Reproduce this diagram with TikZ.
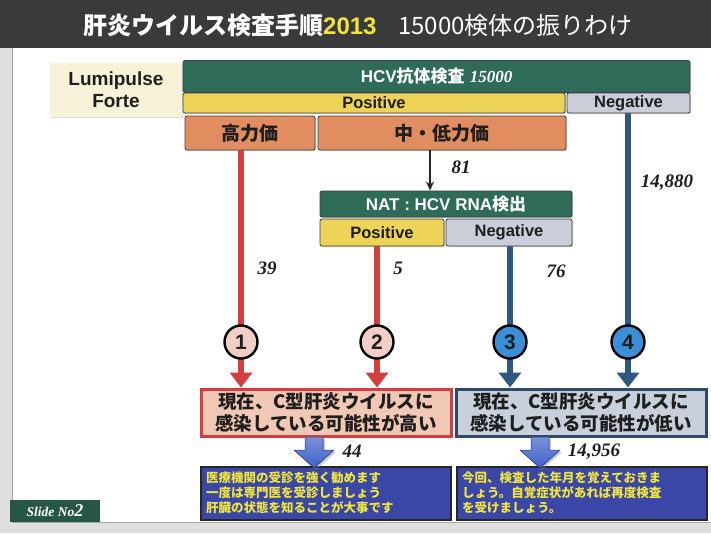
\documentclass[tikz,border=0pt]{standalone}
\usepackage{fontspec}
\setmainfont{Noto Sans CJK JP}
\newfontfamily\lat{Liberation Sans}
\newfontfamily\nums{Liberation Serif}
\usetikzlibrary{arrows.meta,shadows}
\pgfdeclarelayer{frame}
\pgfdeclarelayer{lines}
\pgfsetlayers{frame,lines,main}
\definecolor{barGray}{HTML}{3A3A3A}
\definecolor{ttlYel}{HTML}{F2E23A}
\definecolor{cream}{HTML}{F7F3D8}
\definecolor{dgreen}{HTML}{2E6B58}
\definecolor{pYel}{HTML}{EDD458}
\definecolor{nGray}{HTML}{C9CED8}
\definecolor{orng}{HTML}{E28D5F}
\definecolor{redL}{HTML}{D43E3E}
\definecolor{blueL}{HTML}{2E587E}
\definecolor{pinkC}{HTML}{F1CFC6}
\definecolor{blueC}{HTML}{3A8FD8}
\definecolor{pinkB}{HTML}{F1C7B6}
\definecolor{grayB}{HTML}{C8D0DB}
\definecolor{navyB}{HTML}{2F4868}
\definecolor{blueBox}{HTML}{3A47A6}
\definecolor{txtYel}{HTML}{F0E53C}
\definecolor{arrBlue}{HTML}{3E62C8}
\definecolor{txtDark}{HTML}{1E1E1E}
\tikzset{
  box/.style={rectangle, draw=black!75, line width=0.8pt, rounded corners=2pt, inner sep=0pt,
    drop shadow={shadow xshift=1.2pt, shadow yshift=-1.2pt, opacity=0.35}},
  greenbox/.style={box, fill=dgreen, text=white, font=\bfseries\fontsize{17}{19}\selectfont},
  posbox/.style={box, fill=pYel, text=txtDark, font=\lat\bfseries\fontsize{16.5}{18}\selectfont},
  negbox/.style={box, fill=nGray, text=txtDark, font=\lat\bfseries\fontsize{16.5}{18}\selectfont},
  titerbox/.style={box, fill=orng, text=txtDark, font=\bfseries\fontsize{19}{21}\selectfont, minimum height=34pt},
  cnt/.style={font=\nums\bfseries\itshape\fontsize{19}{21}\selectfont, text=txtDark},
  circ/.style={circle, draw=black, line width=2.4pt, minimum size=33pt, inner sep=0pt,
    font=\lat\bfseries\fontsize{21}{21}\selectfont, text=txtDark},
  redln/.style={draw=redL, line width=6pt, -{Triangle[width=22pt,length=15pt]}},
  blueln/.style={draw=blueL, line width=6pt, -{Triangle[width=22pt,length=15pt]}},
  resbox/.style={rectangle, line width=3pt, inner sep=0pt, minimum width=250pt, minimum height=47pt,
    align=center, font=\bfseries\fontsize{18.5}{22}\selectfont, text=txtDark},
  advbox/.style={rectangle, draw=black!85, line width=2pt, fill=blueBox, inner sep=0pt, minimum width=250pt,
    minimum height=53pt, text width=240pt, align=left, text=txtYel, font=\bfseries\fontsize{12.5}{15}\selectfont},
  barrow/.style={top color=arrBlue!70!white, bottom color=arrBlue, draw=arrBlue!60!black, line width=0.5pt,
    drop shadow={shadow xshift=2pt, shadow yshift=-2pt, opacity=0.4}}
}
\begin{document}
\begin{tikzpicture}[x=1pt,y=-1pt]
\useasboundingbox (0,0) rectangle (711,533);
% slide frame
\begin{pgfonlayer}{frame}
\fill[gray!25] (0,0) rectangle (711,533);
\fill[white] (12,48) rectangle (711,522);
\draw[gray!70, line width=1pt] (12,48) -- (12,522) -- (711,522);
\fill[barGray] (0,0) rectangle (711,48);
\end{pgfonlayer}
\node[text=white, font=\fontsize{24}{26}\selectfont] (title) at (358,25)
  {\textbf{肝炎ウイルス検査手順}\textcolor{ttlYel}{\textbf{\lat 2013}}\hspace{0.9em}15000検体の振りわけ};

% top level
\node[fill=cream, minimum width=132pt, minimum height=54pt, align=center, inner sep=0pt,
  drop shadow={shadow xshift=1.2pt, shadow yshift=-1.2pt, opacity=0.25},
  font=\lat\bfseries\fontsize{19}{22}\selectfont, text=txtDark] (lumi) at (116,90) {Lumipulse\\Forte};
\node[greenbox, minimum width=507pt, minimum height=32pt] (hcv) at (436.5,76.5)
  {{\lat HCV}抗体検査\hspace{0.3em}{\nums\itshape 15000}};
\node[posbox, minimum width=382pt, minimum height=20pt] (posA) at (374,103) {Positive};
\node[negbox, minimum width=123pt, minimum height=20pt] (negA) at (628.5,103) {Negative};
\node[titerbox, minimum width=130pt] (hi) at (250,133) {高力価};
\node[titerbox, minimum width=248pt] (mid) at (442,133) {中・低力価};

% NAT
\node[greenbox, minimum width=252pt, minimum height=26pt] (nat) at (446,204) {{\lat NAT : HCV RNA}検出};
\node[posbox, minimum width=124pt, minimum height=27pt] (posB) at (382,232.5) {Positive};
\node[negbox, minimum width=126pt, minimum height=27pt] (negB) at (509,232.5) {Negative};
\draw[black!85, line width=1.3pt, -{Stealth[length=9pt,width=8pt]}] ([xshift=-12pt]mid.south) -- ([xshift=-16pt]nat.north);
\node[cnt] (n81) at (461,167) {81};

% result boxes
\node[resbox, draw=redL, fill=pinkB] (resL) at (326,412.5) {現在、C型肝炎ウイルスに\\感染している可能性が高い};
\node[resbox, draw=navyB, fill=grayB] (resR) at (581,412.5) {現在、C型肝炎ウイルスに\\感染している可能性が低い};

% circles on the four routes
\node[circ, fill=pinkC] (c1) at (241,342) {1};
\node[circ, fill=pinkC] (c2) at (377,342) {2};
\node[circ, fill=blueC] (c3) at (510,342) {3};
\node[circ, fill=blueC] (c4) at (628,342) {4};

\begin{pgfonlayer}{lines}
\draw[redln] (c1 |- hi.south) -- (c1 |- resL.north);
\draw[redln] (c2 |- posB.south) -- (c2 |- resL.north);
\draw[blueln] (c3 |- negB.south) -- (c3 |- resR.north);
\draw[blueln] (c4 |- negA.south) -- (c4 |- resR.north);
\end{pgfonlayer}

\node[cnt] (n39) at (267,268) {39};
\node[cnt] (n5) at (398,268) {5};
\node[cnt] (n76) at (556,271) {76};
\node[cnt] (n14880) at (667,183) {14,880};

% advice boxes
\node[advbox] (botL) at (326,493) {医療機関の受診を強く勧めます\\一度は専門医を受診しましょう\\肝臓の状態を知ることが大事です};
\node[advbox] (botR) at (582,493) {今回、検査した年月を覚えておきま\\しょう。自覚症状があれば再度検査\\を受けましょう。};

% block arrows
\coordinate (aL) at (314,437);
\coordinate (aR) at (540,437);
\foreach \a in {aL,aR}{
  \filldraw[barrow] (\a) ++(-9,0) -- ++(18,0) -- ++(0,13) -- ++(11,0) -- ++(-20,18) -- ++(-20,-18) -- ++(11,0) -- cycle;
}
\node[cnt] (n44) at (352,451) {44};
\node[cnt] (n14956) at (594,452) {14,956};

% slide number
\node[fill=dgreen!80!black, minimum width=90pt, minimum height=22pt, inner sep=0pt, text=white,
  font=\nums\bfseries\itshape\fontsize{13.5}{14}\selectfont] (slide) at (55,511) {Slide No{\fontsize{18}{18}\selectfont 2}};
\end{tikzpicture}
\end{document}
